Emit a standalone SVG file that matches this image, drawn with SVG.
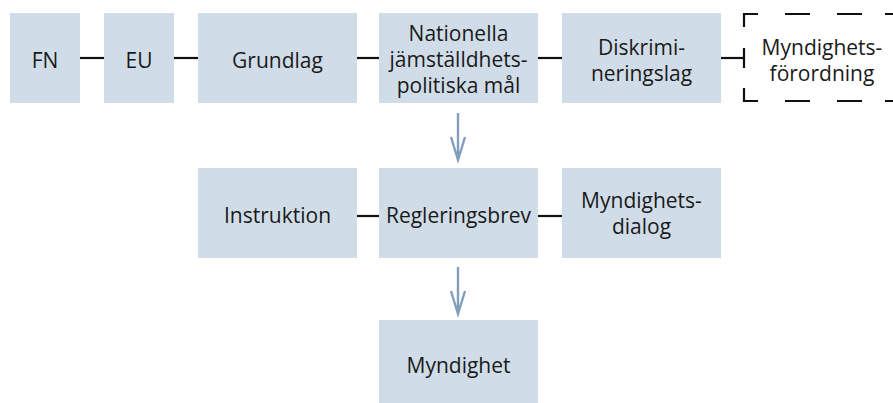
<svg xmlns="http://www.w3.org/2000/svg" width="893" height="403" viewBox="0 0 893 403">
<style>
.box{fill:#d0dde8}
.t{font-family:"Open Sans","Noto Sans",sans-serif;font-size:21px;fill:#1a1a1a;text-anchor:middle}
.c{stroke:#111;stroke-width:2.2;fill:none}
.a{stroke:#819fbd;stroke-width:2.4;fill:none}
.d{stroke:#111;stroke-width:2.2;fill:none}
</style>
<rect width="893" height="403" fill="#fff"/>
<g id="connectors">
<line class="c" x1="80" y1="58" x2="104" y2="58"/>
<line class="c" x1="174" y1="58" x2="198" y2="58"/>
<line class="c" x1="357" y1="58" x2="379" y2="58"/>
<line class="c" x1="538" y1="58" x2="562" y2="58"/>
<line class="c" x1="721" y1="58" x2="744" y2="58"/>
<line class="c" x1="357" y1="216" x2="379" y2="216"/>
<line class="c" x1="538" y1="216" x2="562" y2="216"/>
<path class="a" d="M458,113 V160 M451,137 L458,160 L465,137"/>
<path class="a" d="M458,267 V314 M451,291 L458,314 L465,291"/>
</g>
<g id="fn"><rect class="box" x="10" y="13" width="70" height="90"/><text class="t" x="45" y="68">FN</text></g>
<g id="eu"><rect class="box" x="104" y="13" width="70" height="90"/><text class="t" x="139" y="68">EU</text></g>
<g id="grundlag"><rect class="box" x="198" y="13" width="159" height="90"/><text class="t" x="277.5" y="68">Grundlag</text></g>
<g id="nationella"><rect class="box" x="379" y="13" width="159" height="90"/><text class="t" x="458.5" y="41">Nationella</text><text class="t" x="458.5" y="67">jämställdhets-</text><text class="t" x="458.5" y="93">politiska mål</text></g>
<g id="diskriminering"><rect class="box" x="562" y="13" width="159" height="90"/><text class="t" x="641.5" y="55">Diskrimi-</text><text class="t" x="641.5" y="81">neringslag</text></g>
<g id="myndighetsforordning">
<path class="d" d="M744,27 V14 H758 M785,14 H810 M837,14 H862 M885,14 H900 M744,48 V68 M744,88 V101 H758 M785,101 H810 M837,101 H862 M885,101 H900"/>
<text class="t" x="822" y="55">Myndighets-</text><text class="t" x="822" y="81">förordning</text>
</g>
<g id="instruktion"><rect class="box" x="198" y="168" width="159" height="90"/><text class="t" x="277.5" y="223">Instruktion</text></g>
<g id="regleringsbrev"><rect class="box" x="379" y="168" width="159" height="90"/><text class="t" x="458.5" y="223">Regleringsbrev</text></g>
<g id="myndighetsdialog"><rect class="box" x="562" y="168" width="159" height="90"/><text class="t" x="641.5" y="208">Myndighets-</text><text class="t" x="641.5" y="234">dialog</text></g>
<g id="myndighet"><rect class="box" x="379" y="320" width="159" height="83"/><text class="t" x="458.5" y="373">Myndighet</text></g>
</svg>
